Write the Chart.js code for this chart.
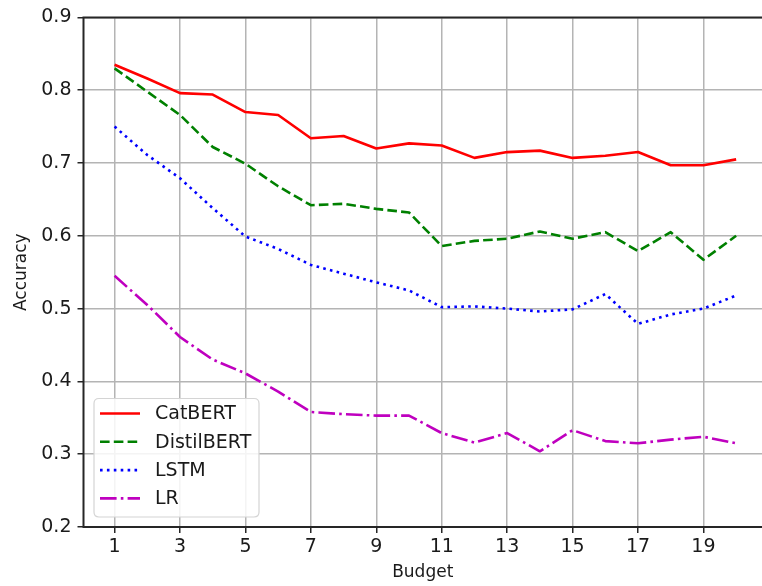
<!DOCTYPE html>
<html>
<head>
<meta charset="utf-8">
<script src="https://cdn.jsdelivr.net/npm/chart.js@4.4.1/dist/chart.umd.min.js"></script>
<style>
  html, body { margin: 0; padding: 0; background: #ffffff; overflow: hidden; }
  #wrap { position: relative; width: 762px; height: 586px; }
</style>
</head>
<body>
<div id="wrap"><canvas id="c" width="762" height="586"></canvas></div>
<script>
// ---- data ----
const budgets = [1, 2, 3, 4, 5, 6, 7, 8, 9, 10, 11, 12, 13, 14, 15, 16, 17, 18, 19, 20];
const catbert = [0.835, 0.816, 0.796, 0.794, 0.770, 0.766, 0.734, 0.737, 0.720, 0.727, 0.724, 0.707, 0.715, 0.717, 0.707, 0.710, 0.715, 0.697, 0.697, 0.705];
const distilbert = [0.830, 0.798, 0.766, 0.722, 0.699, 0.668, 0.642, 0.644, 0.637, 0.632, 0.586, 0.593, 0.596, 0.606, 0.596, 0.605, 0.579, 0.605, 0.567, 0.600];
const lstm = [0.750, 0.711, 0.679, 0.638, 0.599, 0.582, 0.560, 0.548, 0.536, 0.525, 0.502, 0.503, 0.500, 0.496, 0.499, 0.520, 0.479, 0.492, 0.500, 0.518];
const lr = [0.545, 0.505, 0.461, 0.430, 0.411, 0.386, 0.358, 0.355, 0.353, 0.353, 0.329, 0.316, 0.329, 0.304, 0.333, 0.318, 0.315, 0.320, 0.324, 0.315];
const seriesNames = ['CatBERT', 'DistilBERT', 'LSTM', 'LR'];
const xTicks = [1, 3, 5, 7, 9, 11, 13, 15, 17, 19];
const yTicks = [0.2, 0.3, 0.4, 0.5, 0.6, 0.7, 0.8, 0.9];
const xTitle = 'Budget';
const yTitle = 'Accuracy';

const FONT = "'DejaVu Sans', sans-serif";
const LW = 2.6;

function pts(arr) { return budgets.map((b, i) => ({ x: b, y: arr[i] })); }

const styles = [
  { color: '#ff0000', dash: [] },
  { color: '#008000', dash: [9.6, 4.2] },
  { color: '#0000ff', dash: [2.6, 4.3] },
  { color: '#bf00bf', dash: [16.6, 4.2, 2.6, 4.2] }
];
const allSeries = [catbert, distilbert, lstm, lr];

const datasets = allSeries.map((s, i) => ({
  label: seriesNames[i],
  data: pts(s),
  borderColor: styles[i].color,
  backgroundColor: styles[i].color,
  borderWidth: LW,
  borderDash: styles[i].dash,
  borderCapStyle: 'butt',
  borderJoinStyle: 'round',
  pointRadius: 0,
  tension: 0,
  fill: false
}));

// spines + matplotlib-style legend
const mplPlugin = {
  id: 'mpl',
  afterDatasetsDraw(chart) {
    const { ctx, chartArea: a } = chart;
    ctx.save();
    ctx.strokeStyle = '#262626';
    ctx.lineWidth = 2;
    ctx.setLineDash([]);
    ctx.beginPath();
    ctx.moveTo(a.left, a.bottom);
    ctx.lineTo(a.left, a.top);
    ctx.lineTo(a.right + 2, a.top);
    ctx.moveTo(a.left - 1, a.bottom);
    ctx.lineTo(a.right + 2, a.bottom);
    ctx.stroke();

    // legend box
    const bx = 94, by = 398.5, bw = 165, bh = 118.5, r = 5;
    ctx.beginPath();
    ctx.moveTo(bx + r, by);
    ctx.lineTo(bx + bw - r, by);
    ctx.quadraticCurveTo(bx + bw, by, bx + bw, by + r);
    ctx.lineTo(bx + bw, by + bh - r);
    ctx.quadraticCurveTo(bx + bw, by + bh, bx + bw - r, by + bh);
    ctx.lineTo(bx + r, by + bh);
    ctx.quadraticCurveTo(bx, by + bh, bx, by + bh - r);
    ctx.lineTo(bx, by + r);
    ctx.quadraticCurveTo(bx, by, bx + r, by);
    ctx.closePath();
    ctx.fillStyle = 'rgba(255,255,255,0.85)';
    ctx.fill();
    ctx.strokeStyle = '#d4d4d4';
    ctx.lineWidth = 1.2;
    ctx.stroke();

    const rowY = [413.5, 441.8, 470.1, 498.4];
    chart.data.datasets.forEach((ds, i) => {
      const y = rowY[i];
      ctx.beginPath();
      ctx.strokeStyle = ds.borderColor;
      ctx.lineWidth = LW;
      ctx.lineCap = 'butt';
      ctx.setLineDash(ds.borderDash);
      ctx.moveTo(100, y);
      ctx.lineTo(140, y);
      ctx.stroke();
      ctx.setLineDash([]);
      ctx.fillStyle = '#1a1a1a';
      ctx.font = '19px ' + FONT;
      ctx.textAlign = 'left';
      ctx.textBaseline = 'middle';
      ctx.fillText(ds.label, 155, y + 1);
    });
    ctx.restore();
  }
};

new Chart(document.getElementById('c'), {
  type: 'line',
  data: { datasets },
  plugins: [mplPlugin],
  options: {
    responsive: false,
    animation: false,
    events: [],
    layout: { padding: { left: 0, right: 0, top: 16.5, bottom: 0 } },
    plugins: { legend: { display: false }, tooltip: { enabled: false }, title: { display: false } },
    scales: {
      x: {
        type: 'linear',
        min: 0.05,
        max: 20.79,
        afterBuildTicks(scale) { scale.ticks = xTicks.map(v => ({ value: v })); },
        afterFit(scale) { scale.height = 59; },
        grid: { color: '#b4b4b4', lineWidth: 1.5, drawTicks: true, tickLength: 6, tickColor: '#262626', tickWidth: 1.5 },
        border: { display: false },
        ticks: { color: '#1a1a1a', font: { family: FONT, size: 19 }, padding: 3, maxRotation: 0, autoSkip: false,
                 callback: v => String(v) },
        title: { display: true, text: xTitle, color: '#1a1a1a', font: { family: FONT, size: 17 }, padding: { top: 0, bottom: 3.5 } }
      },
      y: {
        type: 'linear',
        min: 0.2,
        max: 0.9,
        afterBuildTicks(scale) { scale.ticks = yTicks.map(v => ({ value: v })); },
        afterFit(scale) { scale.width = 83.5; },
        grid: { color: '#b4b4b4', lineWidth: 1.5, drawTicks: true, tickLength: 6, tickColor: '#262626', tickWidth: 1.5 },
        border: { display: false },
        ticks: { color: '#1a1a1a', font: { family: FONT, size: 19 }, padding: 6, autoSkip: false,
                 callback: v => Number(v).toFixed(1) },
        title: { display: true, text: yTitle, color: '#1a1a1a', font: { family: FONT, size: 17 }, padding: { top: 11.5, bottom: 0 } }
      }
    }
  }
});
</script>
</body>
</html>
